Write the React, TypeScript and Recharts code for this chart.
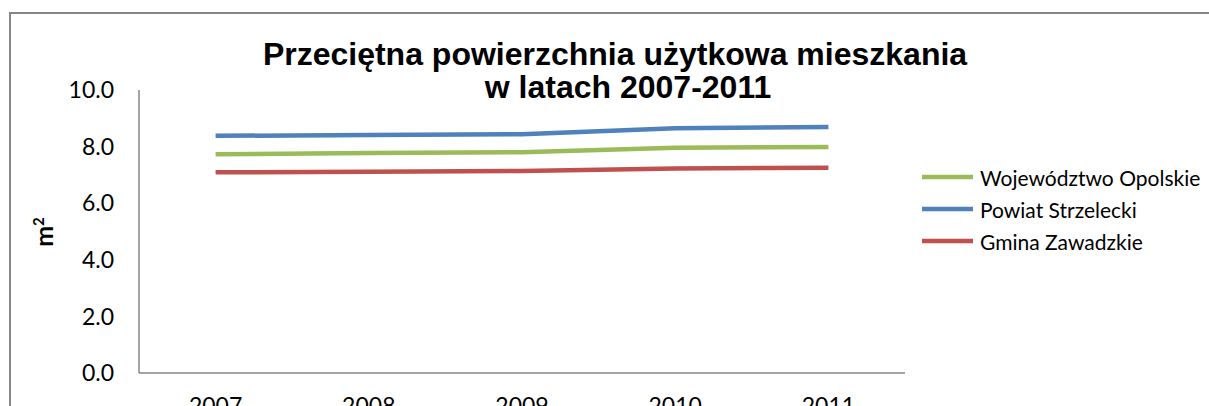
import React from 'react';
import { LineChart, Line, XAxis, YAxis, Legend } from 'recharts';

const years = ['2007', '2008', '2009', '2010', '2011'];
const wojewodztwo = [7.73, 7.77, 7.8, 7.96, 7.99];
const powiat = [8.38, 8.41, 8.44, 8.65, 8.69];
const gmina = [7.09, 7.11, 7.14, 7.23, 7.25];
const yTicks = [0, 2, 4, 6, 8, 10];
const seriesKeys = ['woj', 'pow', 'gm'];
const seriesNames = ['Województwo Opolskie', 'Powiat Strzelecki', 'Gmina Zawadzkie'];
const seriesColors = ['#9BBB59', '#4F81BD', '#C0504D'];
const titleLines = ['Przeciętna powierzchnia użytkowa mieszkania', 'w latach 2007-2011'];

const data = years.map((y, i) => ({ year: y, woj: wojewodztwo[i], pow: powiat[i], gm: gmina[i] }));

const tickFont = { fontFamily: 'Lato', fontSize: 23, fill: '#000' };

const renderLegend = () => (
  <div style={{ fontFamily: 'Lato', fontSize: 21, color: '#000' }}>
    {seriesNames.map((name, i) => (
      <div key={i} style={{ display: 'flex', alignItems: 'center', height: 32, whiteSpace: 'nowrap' }}>
        <svg width={51} height={6} style={{ display: 'block' }}>
          <line x1={0} y1={3} x2={51} y2={3} stroke={seriesColors[i]} strokeWidth={4.5} />
        </svg>
        <span style={{ marginLeft: 7 }}>{name}</span>
      </div>
    ))}
  </div>
);

export default function App() {
  return (
    <div style={{ position: 'absolute', left: 0, top: 0, width: 1209, height: 406, overflow: 'hidden', background: '#fff' }}>
      <LineChart width={1209} height={406} data={data} margin={{ top: 90, right: 304, bottom: 3, left: 89 }}>
        <XAxis
          dataKey="year"
          height={30}
          tickLine={false}
          tickSize={0}
          tickMargin={25}
          stroke="#868686"
          strokeWidth={1.5}
          tick={tickFont}
          interval={0}
          padding={{ left: 76.6, right: 76.6 }}
        />
        <YAxis
          width={50}
          domain={[0, 10]}
          ticks={yTicks}
          tickFormatter={(v: number) => v.toFixed(1)}
          tickLine={false}
          tickSize={0}
          tickMargin={25}
          stroke="#868686"
          strokeWidth={1.5}
          tick={tickFont}
          interval={0}
        />
        <Legend
          layout="vertical"
          align="center"
          verticalAlign="middle"
          content={renderLegend}
          wrapperStyle={{ left: 922, top: 161, width: 290 }}
        />
        {seriesKeys.map((k, i) => (
          <Line
            key={k}
            type="linear"
            dataKey={k}
            name={seriesNames[i]}
            stroke={seriesColors[i]}
            strokeWidth={4.5}
            dot={false}
            isAnimationActive={false}
            strokeLinejoin="round"
          />
        ))}
      </LineChart>
      <svg width={1209} height={406} style={{ position: 'absolute', left: 0, top: 0, pointerEvents: 'none' }}>
        <path d="M10,406 V13 H1209" fill="none" stroke="#868686" strokeWidth={2} />
        <text x={615} y={65} textAnchor="middle" fontFamily="Liberation Sans" fontWeight="bold" fontSize={32} fill="#000">{titleLines[0]}</text>
        <text x={628} y={98} textAnchor="middle" fontFamily="Liberation Sans" fontWeight="bold" fontSize={32} fill="#000">{titleLines[1]}</text>
        <text transform="translate(53,232) rotate(-90)" textAnchor="middle" fontFamily="Lato" fontWeight="bold" fontSize={25} fill="#000">
          m<tspan dy={-9} fontSize={15}>2</tspan>
        </text>
      </svg>
    </div>
  );
}
